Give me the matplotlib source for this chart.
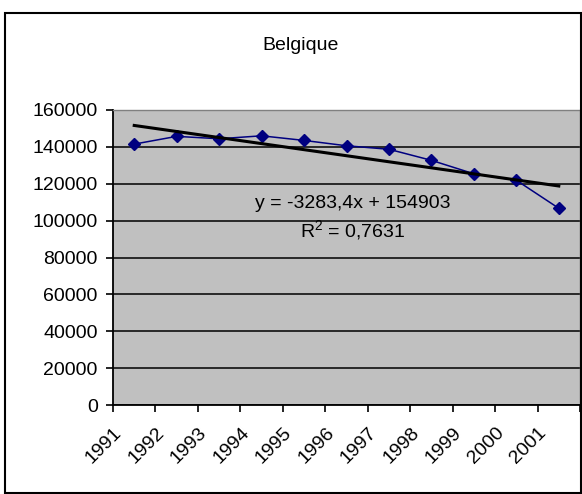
import numpy as np
import matplotlib.pyplot as plt
from matplotlib.patches import Rectangle
from matplotlib.transforms import ScaledTranslation, blended_transform_factory

plt.rcParams['font.family'] = ['Liberation Sans', 'DejaVu Sans']
plt.rcParams['mathtext.fontset'] = 'custom'
plt.rcParams['mathtext.rm'] = 'Liberation Sans'
plt.rcParams['mathtext.it'] = 'Liberation Sans'

years = ["1991", "1992", "1993", "1994", "1995", "1996",
         "1997", "1998", "1999", "2000", "2001"]
values = [141500, 145700, 144400, 146000, 143500, 140600,
          138700, 132700, 125400, 121900, 106700]
trend_slope = -3283.4
trend_intercept = 154903
eq_text = "y = -3283,4x + 154903"
r2_text = r"R$^{2}$ = 0,7631"
y_ticks = [0, 20000, 40000, 60000, 80000, 100000, 120000, 140000, 160000]

FS = 14
W, H = 582, 494
fig = plt.figure(figsize=(W / 100, H / 100), dpi=100)
fig.patch.set_facecolor("white")

# outer chart border
fig.patches.append(Rectangle((5 / W, 1 - 493 / H), 576 / W, 480 / H,
                             transform=fig.transFigure, fill=False,
                             edgecolor="black", linewidth=1.5))

ax = fig.add_axes([113 / W, 1 - 405 / H, 467 / W, 295 / H])
ax.set_facecolor("#C0C0C0")

x = np.arange(1, len(values) + 1)
ax.plot(x, values, color="#000080", linewidth=1.1, marker="D",
        markersize=6.5, zorder=3)

xt = np.array([x[0], x[-1]])
ax.plot(xt, trend_slope * xt + trend_intercept, color="black",
        linewidth=2.2, zorder=4)

ax.set_xlim(0.5, len(values) + 0.5)
ax.set_ylim(0, 160000)
ax.set_yticks(y_ticks)
ax.set_yticklabels([str(v) for v in y_ticks], fontsize=FS)
ax.yaxis.grid(True, color="black", linewidth=1.1)
ax.set_axisbelow(True)

ax.set_xticks(np.arange(0.5, len(values) + 1, 1.0))
ax.set_xticklabels([])
ax.tick_params(axis="both", direction="out", length=5, width=1.2, colors="black")
ax.tick_params(axis="y", pad=6)

for s in ["top", "right"]:
    ax.spines[s].set_color("#808080")
    ax.spines[s].set_linewidth(1.0)
for s in ["left", "bottom"]:
    ax.spines[s].set_color("black")
    ax.spines[s].set_linewidth(1.3)

trans = blended_transform_factory(ax.transData, ax.transAxes) + \
    ScaledTranslation(-0.15, -0.25, fig.dpi_scale_trans)
for xi, lab in zip(x, years):
    ax.text(xi, 0, lab, transform=trans, rotation=45, ha="right",
            va="center", rotation_mode="anchor", fontsize=FS)

ax.text(6.15, 109500, eq_text, ha="center", va="center", fontsize=FS, zorder=5)
ax.text(6.15, 95000, r2_text, ha="center", va="center", fontsize=FS, zorder=5)

fig.text(301 / W, 1 - 45 / H, "Belgique", ha="center", va="center",
         fontsize=FS)

fig.savefig("out.png", dpi=100)
